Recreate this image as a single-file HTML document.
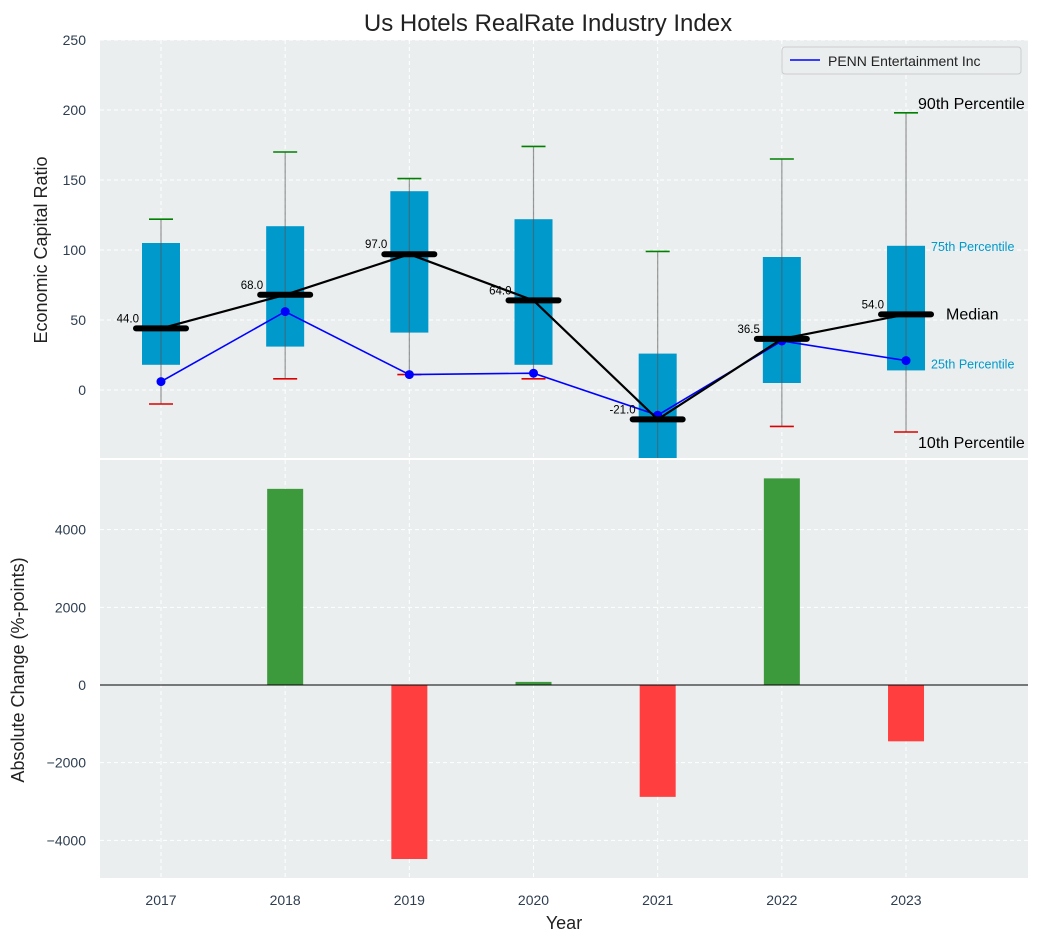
<!DOCTYPE html>
<html><head><meta charset="utf-8"><style>
body{margin:0;background:#fff;}
svg{display:block;font-family:"Liberation Sans","DejaVu Sans",sans-serif;}
</style></head><body>
<svg id="chart" width="1053" height="942" viewBox="0 0 1053 942" xmlns="http://www.w3.org/2000/svg"></svg>
<script>
const years=[2017,2018,2019,2020,2021,2022,2023];
const p10=[-10,8,11,8,-60,-26,-30];
const q1=[18,31,41,18,-60,5,14];
const med=[44,68,97,64,-21,36.5,54];
const q3=[105,117,142,122,26,95,103];
const p90=[122,170,151,174,99,165,198];
const penn=[6,56,11,12,-18,35,21];
const change=[0,5050,-4480,80,-2880,5320,-1450];
const yTicksTop=[0,50,100,150,200,250];
const yTicksBot=[-4000,-2000,0,2000,4000];

const NS="http://www.w3.org/2000/svg";
const svg=document.getElementById('chart');
function el(t,a,p){const e=document.createElementNS(NS,t);for(const k in a)e.setAttribute(k,a[k]);(p||svg).appendChild(e);return e;}
const L=100,R=1028;
const x=v=>161+(v-2017)*124.17;
const yT=v=>390-v*1.4;
const yB=v=>685-v*0.03884;
const T1=40,B1=458,T2=460,B2=878;

let bg=el('rect',{x:L,y:T1,width:R-L,height:B1-T1,fill:'#eaeeef'});

let bg2=el('rect',{x:L,y:T2,width:R-L,height:B2-T2,fill:'#eaeeef'});


const defs=el('defs',{});
const cp=el('clipPath',{id:'c1'},defs);el('rect',{x:L,y:T1,width:R-L,height:B1-T1},cp);
const cp2=el('clipPath',{id:'c2'},defs);el('rect',{x:L,y:T2,width:R-L,height:B2-T2},cp2);

years.forEach(yr=>{
 el('line',{x1:x(yr),x2:x(yr),y1:T1,y2:B1,stroke:'#fff','stroke-dasharray':'4,3','stroke-width':1});
 el('line',{x1:x(yr),x2:x(yr),y1:T2,y2:B2,stroke:'#fff','stroke-dasharray':'4,3','stroke-width':1});
 const t=el('text',{x:x(yr),y:905,'text-anchor':'middle','font-size':14,fill:'#2e3e50'});t.textContent=yr;
 
});
yTicksTop.forEach(v=>{
 el('line',{x1:L,x2:R,y1:yT(v),y2:yT(v),stroke:'#fff','stroke-dasharray':'4,3'});
 const t=el('text',{x:86,y:yT(v)+5,'text-anchor':'end','font-size':14,fill:'#2e3e50'});t.textContent=v;
 
});
yTicksBot.forEach(v=>{
 el('line',{x1:L,x2:R,y1:yB(v),y2:yB(v),stroke:'#fff','stroke-dasharray':'4,3'});
 const t=el('text',{x:86,y:yB(v)+5,'text-anchor':'end','font-size':14,fill:'#2e3e50'});t.textContent=(v<0?'\u2212'+(-v):v);
 
});

const gTop=el('g',{'clip-path':'url(#c1)'});
const gBot=el('g',{'clip-path':'url(#c2)'});

years.forEach((yr,i)=>{
 const cx=x(yr);
 const b=el('rect',{x:cx-19,y:yT(q3[i]),width:38,height:yT(q1[i])-yT(q3[i]),fill:'#0099cc'},gTop);
 
 el('line',{x1:cx,x2:cx,y1:yT(p10[i]),y2:yT(p90[i]),stroke:'#555','stroke-opacity':0.6,'stroke-width':1.2},gTop);
 el('line',{x1:cx-12,x2:cx+12,y1:yT(p90[i]),y2:yT(p90[i]),stroke:'green','stroke-width':1.6},gTop);
 el('line',{x1:cx-12,x2:cx+12,y1:yT(p10[i]),y2:yT(p10[i]),stroke:'#d00','stroke-width':1.6},gTop);
});
el('polyline',{points:years.map((yr,i)=>x(yr)+','+yT(penn[i])).join(' '),fill:'none',stroke:'blue','stroke-width':1.6},gTop);
years.forEach((yr,i)=>{const c=el('circle',{cx:x(yr),cy:yT(penn[i]),r:4.5,fill:'blue'},gTop);
 });
el('polyline',{points:years.map((yr,i)=>x(yr)+','+yT(med[i])).join(' '),fill:'none',stroke:'#000','stroke-width':2.2},gTop);
years.forEach((yr,i)=>{
 const m=el('line',{x1:x(yr)-25,x2:x(yr)+25,y1:yT(med[i]),y2:yT(med[i]),stroke:'#000','stroke-width':6,'stroke-linecap':'round'},gTop);
 
 const t=el('text',{x:x(yr)-22,y:yT(med[i])-6,'text-anchor':'end','font-size':11.5,fill:'#000'});t.textContent=med[i].toFixed(1);
});
const li=6;
[[p90[li],'90th Percentile',16,'#000',0,-9],[q3[li],'75th Percentile',12.5,'#0099cc',13,0],[med[li],'Median',16,'#000',28,0],[q1[li],'25th Percentile',12.5,'#0099cc',13,-7],[p10[li],'10th Percentile',16,'#000',0,11]].forEach(a=>{
 const yy=yT(a[0])+a[5];
 const t=el('text',{x:x(2023)+12+a[4],y:yy+5,'font-size':a[2],fill:a[3]});t.textContent=a[1];
 
});
const lg=el('g',{});
el('rect',{x:782,y:47,width:239,height:27,rx:3,fill:'#eaeeef',stroke:'#ccc'},lg);
el('line',{x1:790,x2:820,y1:60,y2:60,stroke:'blue','stroke-width':1.6},lg);
const lt=el('text',{x:828,y:66,'font-size':14,fill:'#222'},lg);lt.textContent='PENN Entertainment Inc';

years.forEach((yr,i)=>{
 const v=change[i];const y0=yB(Math.max(v,0)),y1=yB(Math.min(v,0));
 const b=el('rect',{x:x(yr)-18,y:y0,width:36,height:y1-y0,fill:v>=0?'#3c9a3c':'#ff3f3f'},gBot);
 
});
el('line',{x1:L,x2:R,y1:yB(0),y2:yB(0),stroke:'#000','stroke-width':1});

let t=el('text',{x:548,y:31,'text-anchor':'middle','font-size':24,fill:'#222'});t.textContent='Us Hotels RealRate Industry Index';

t=el('text',{x:564,y:929,'text-anchor':'middle','font-size':18,fill:'#222'});t.textContent='Year';

t=el('text',{x:0,y:0,'text-anchor':'middle','font-size':18,fill:'#222',transform:'translate(47,250) rotate(-90)'});t.textContent='Economic Capital Ratio';

t=el('text',{x:0,y:0,'text-anchor':'middle','font-size':18,fill:'#222',transform:'translate(24,670) rotate(-90)'});t.textContent='Absolute Change (%-points)';

</script>
</body></html>
